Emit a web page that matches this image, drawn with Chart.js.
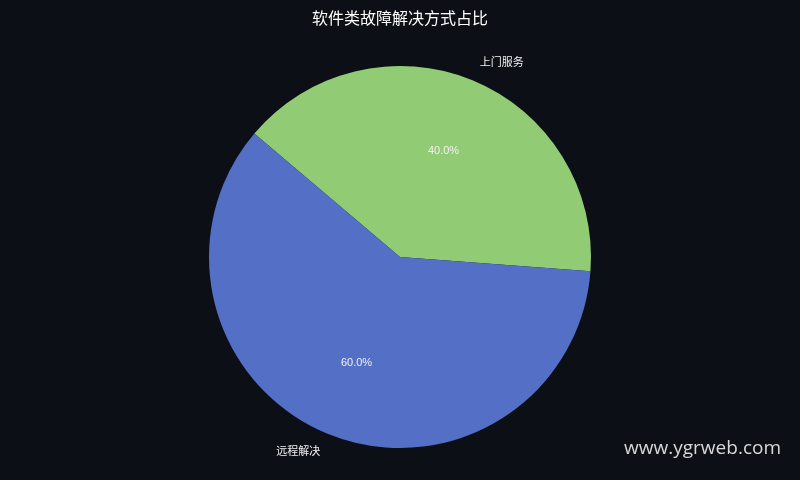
<!DOCTYPE html>
<html>
<head>
<meta charset="utf-8">
<script src="https://cdn.jsdelivr.net/npm/chart.js@4/dist/chart.umd.min.js"></script>
<style>
  html, body { margin: 0; padding: 0; background: #0c0f16; }
  #wrap { width: 800px; height: 480px; position: relative; }
</style>
</head>
<body>
<div id="wrap"><canvas id="c" width="800" height="480"></canvas></div>
<script>
// --- Data ---
const title_text = '软件类故障解决方式占比';
const categories = ['上门服务', '远程解决'];
const values = [40, 60];
const colors = ['#91cc75', '#5470c6'];
const watermark = 'www.ygrweb.com';

// --- Labels plugin: title, outer names, inner percentages, watermark ---
const label_plugin = {
  id: 'pie_labels',
  beforeDraw(chart) {
    const ctx = chart.ctx;
    ctx.save();
    ctx.fillStyle = '#0c0f16';
    ctx.fillRect(0, 0, chart.width, chart.height);
    ctx.restore();
  },
  afterDraw(chart) {
    const ctx = chart.ctx;
    const meta = chart.getDatasetMeta(0);
    const total = values.reduce((a, b) => a + b, 0);
    ctx.save();
    ctx.textBaseline = 'middle';
    meta.data.forEach((arc, i) => {
      const mid = (arc.startAngle + arc.endAngle) / 2;
      const r = arc.outerRadius;
      const cx = arc.x, cy = arc.y;
      // percentage
      ctx.font = '11px "Liberation Sans", Arial, sans-serif';
      ctx.fillStyle = '#f0f0f0';
      ctx.textAlign = 'center';
      const pct = (values[i] / total * 100).toFixed(1) + '%';
      ctx.fillText(pct, cx + Math.cos(mid) * r * 0.6, cy + Math.sin(mid) * r * 0.6);
      // category name
      const lx = cx + Math.cos(mid) * r * 1.1;
      const ly = cy + Math.sin(mid) * r * 1.1 - 1;
      ctx.font = '11px "Noto Sans CJK SC", sans-serif';
      ctx.textAlign = lx >= cx ? 'left' : 'right';
      ctx.fillText(categories[i], lx, ly);
    });
    // title
    ctx.font = '16px "Noto Sans CJK SC", sans-serif';
    ctx.fillStyle = '#ffffff';
    ctx.textAlign = 'center';
    ctx.fillText(title_text, 400, 18);
    // watermark
    ctx.font = '19px "Open Sans", sans-serif';
    ctx.fillStyle = '#d8d8d8';
    ctx.textAlign = 'right';
    ctx.fillText(watermark, 781, 449);
    ctx.restore();
  }
};

new Chart(document.getElementById('c'), {
  type: 'pie',
  data: {
    labels: categories,
    datasets: [{
      data: values,
      backgroundColor: colors,
      borderWidth: 0
    }]
  },
  options: {
    responsive: false,
    animation: false,
    rotation: -49.7,
    layout: { padding: { top: 66, bottom: 32, left: 0, right: 0 } },
    plugins: {
      legend: { display: false },
      tooltip: { enabled: false },
      title: { display: false }
    }
  },
  plugins: [label_plugin]
});
</script>
</body>
</html>
